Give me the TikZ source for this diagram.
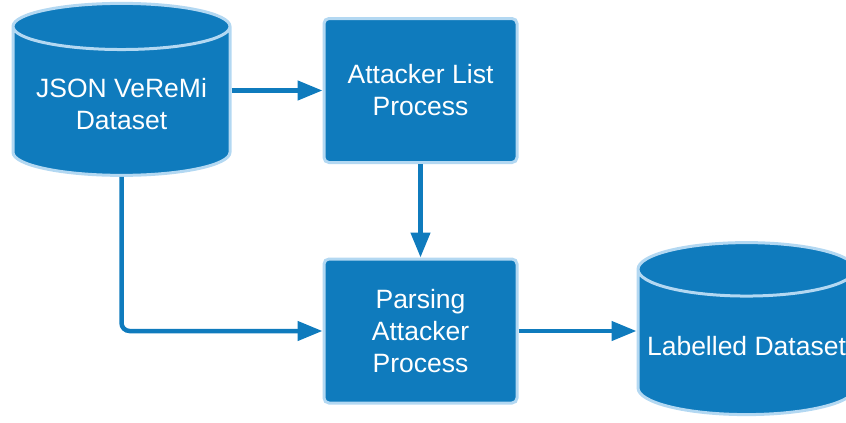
\documentclass[tikz,border=0pt]{standalone}
\usepackage{fontspec}
\setmainfont{Liberation Sans}
\usepackage{tikz}
\usepackage{xcolor}
\usetikzlibrary{shapes.geometric,arrows.meta}
\definecolor{bleu}{HTML}{0F7BBD}
\definecolor{bleuclair}{HTML}{B3D8F2}
\tikzset{
Boite/.style={
 rectangle,
 rounded corners=5pt,
 draw=bleuclair,
 line width=3pt,
 fill=bleu,
 text=white,
 align=center,
 minimum width=193pt,
 minimum height=144pt,
 font=\fontsize{26.5}{32}\selectfont
 },
Cylindre/.style={
 cylinder,
 shape border rotate=90,
 aspect=0.26,
 draw=bleuclair,
 line width=3pt,
 fill=bleu,
 text=white,
 align=center,
 minimum width=217pt,
 minimum height=172pt,
 font=\fontsize{26.5}{32}\selectfont
 },
Fleche/.style={
 draw=bleu,
 line width=4.5pt,
 -{Triangle[length=25pt,width=19pt]}
 }
}
\begin{document}
\begin{tikzpicture}[x=1pt,y=-1pt]
\useasboundingbox (0,0) rectangle (846,423);
\node[Cylindre] (json) at (121.5,104.5) {JSON VeReMi\\Dataset};
\node[Boite] (liste) at (420.5,90.5) {Attacker List\\Process};
\node[Boite] (parsing) at (420.5,331) {Parsing\\Attacker\\Process};
\node[Cylindre] (labelled) at (746.5,346) {Labelled Dataset};
\draw[Fleche] (json.east |- liste.west) -- (liste.west);
\draw[Fleche] (liste.south) -- (parsing.north);
\draw[Fleche,rounded corners=8pt] (json.south) |- (parsing.west);
\draw[Fleche] (parsing.east) -- (parsing.east -| labelled.west);
\end{tikzpicture}
\end{document}
